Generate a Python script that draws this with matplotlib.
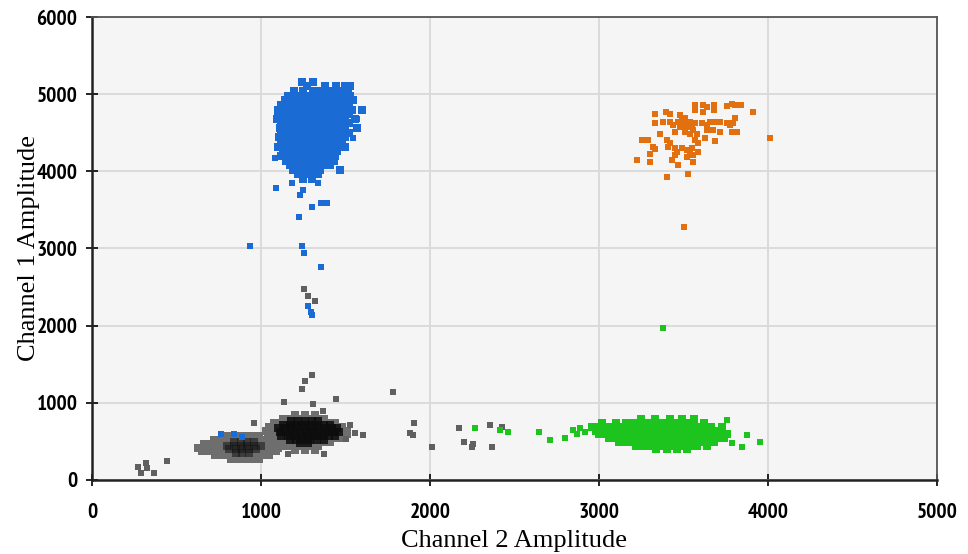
import matplotlib.pyplot as plt
from matplotlib import font_manager

# axis ticks
x_ticks = [0, 1000, 2000, 3000, 4000, 5000]
y_ticks = [0, 1000, 2000, 3000, 4000, 5000, 6000]

# --- blue cluster (Ch1 positive) ---
blue_levels = [5160, 5100, 5040, 4980, 4920, 4860, 4800, 4740, 4680, 4620, 4560,
               4500, 4440, 4380, 4320, 4260, 4200, 4140, 4080, 4020, 3960, 3900]
blue_rows = [
    [1240, 1306],
    [1275, 1380, 1445, 1500, 1528],
    [1195, 1250, 1305, 1350, 1395, 1440, 1478, 1515],
    [1160, 1205, 1245, 1285, 1325, 1365, 1405, 1445, 1485, 1525],
    [1140, 1180, 1220, 1260, 1300, 1340, 1380, 1420, 1460, 1500, 1545],
    [1120, 1160, 1200, 1240, 1280, 1320, 1360, 1400, 1440, 1480, 1520],
    [1100, 1140, 1180, 1220, 1260, 1300, 1340, 1380, 1420, 1460, 1500, 1540, 1596],
    [1120, 1160, 1200, 1240, 1280, 1320, 1360, 1400, 1440, 1480, 1520],
    [1095, 1140, 1180, 1220, 1260, 1300, 1340, 1380, 1420, 1460, 1500, 1555],
    [1120, 1160, 1200, 1240, 1280, 1320, 1360, 1400, 1440, 1480, 1520],
    [1110, 1140, 1180, 1220, 1260, 1300, 1340, 1380, 1420, 1460, 1500, 1570],
    [1120, 1160, 1200, 1240, 1280, 1320, 1360, 1400, 1440, 1480, 1520],
    [1105, 1140, 1180, 1220, 1260, 1300, 1340, 1380, 1420, 1460, 1500],
    [1120, 1160, 1200, 1240, 1280, 1320, 1360, 1400, 1440, 1480],
    [1100, 1140, 1180, 1220, 1260, 1300, 1340, 1380, 1420, 1460, 1500],
    [1130, 1170, 1210, 1250, 1290, 1330, 1370, 1410, 1450],
    [1120, 1160, 1200, 1240, 1280, 1320, 1360, 1400, 1440],
    [1150, 1190, 1230, 1270, 1310, 1350, 1390, 1430],
    [1170, 1210, 1250, 1290, 1330, 1370, 1410],
    [1190, 1230, 1270, 1310, 1350, 1467],
    [1220, 1260, 1300, 1340],
    [1250, 1300],
]
blue_extra = [(935, 3031), (1243, 3031), (1254, 2940), (1355, 2759), (1278, 2254),
              (1302, 2137), (1296, 2176), (1225, 3407), (1302, 3536), (1355, 3588),
              (1390, 3588), (1089, 3782), (1183, 3847), (1337, 3847), (1231, 3692),
              (1249, 3756), (1083, 4171), (1093, 4771), (1568, 4676), (1545, 4430),
              (763, 596), (840, 596), (888, 557)]

# --- orange cluster (double positive) ---
orange_pts = [(3568, 4858), (3617, 4858), (3641, 4836), (3682, 4858), (3755, 4845),
              (3785, 4879), (3805, 4858), (3838, 4858), (3568, 4801), (3613, 4771),
              (3682, 4801), (3331, 4741), (3397, 4771), (3420, 4741), (3479, 4728),
              (3913, 4771), (3509, 4685), (3538, 4642), (3568, 4620), (3499, 4620),
              (3529, 4577), (3420, 4642), (3381, 4642), (3331, 4620), (3440, 4598),
              (3657, 4642), (3686, 4642), (3716, 4642), (3755, 4620), (3795, 4620),
              (3805, 4685), (3775, 4598), (3637, 4598), (3608, 4620), (3361, 4490),
              (3450, 4512), (3509, 4512), (3538, 4490), (3578, 4490), (3637, 4534),
              (3677, 4534), (3716, 4512), (3785, 4512), (3815, 4512), (3253, 4404),
              (3292, 4404), (3400, 4404), (3420, 4361), (3568, 4404), (3588, 4361),
              (3627, 4426), (3686, 4391), (4012, 4426), (3322, 4318), (3331, 4283),
              (3410, 4318), (3450, 4296), (3489, 4296), (3519, 4275), (3548, 4296),
              (3460, 4253), (3538, 4231), (3588, 4253), (3302, 4231), (3450, 4210),
              (3223, 4145), (3302, 4123), (3430, 4145), (3469, 4080), (3519, 4188),
              (3558, 4123), (3558, 4210), (3400, 3929), (3529, 3959), (3503, 3282),
              (3489, 4663), (3519, 4642), (3548, 4598), (3479, 4577), (3509, 4555),
              (3558, 4542), (3469, 4642)]

# --- green cluster (Ch2 positive) ---
green_levels = [790, 740, 690, 640, 590, 540, 490, 440, 400]
green_rows = [
    [3250, 3330, 3420, 3490, 3560],
    [3020, 3100, 3160, 3200, 3240, 3280, 3320, 3360, 3400, 3440, 3480, 3520, 3560, 3620],
    [2960, 3000, 3040, 3080, 3120, 3160, 3200, 3240, 3280, 3320, 3360, 3400, 3440,
     3480, 3520, 3560, 3600, 3660, 3730],
    [2980, 3020, 3060, 3100, 3140, 3180, 3220, 3260, 3300, 3340, 3380, 3420, 3460,
     3500, 3540, 3580, 3620, 3660, 3700],
    [3000, 3040, 3080, 3120, 3160, 3200, 3240, 3280, 3320, 3360, 3400, 3440, 3480,
     3520, 3560, 3600, 3640, 3680, 3720, 3760],
    [3060, 3100, 3140, 3180, 3220, 3260, 3300, 3340, 3380, 3420, 3460, 3500, 3540,
     3580, 3620, 3660, 3700, 3740],
    [3120, 3160, 3200, 3240, 3280, 3320, 3360, 3400, 3440, 3480, 3520, 3560, 3600,
     3640, 3680],
    [3220, 3260, 3300, 3340, 3380, 3420, 3460, 3500, 3540, 3580, 3640],
    [3340, 3400, 3460, 3520],
]
green_extra = [(2266, 673), (2414, 648), (2462, 622), (2645, 622), (2710, 518),
               (2799, 544), (2846, 648), (2888, 673), (2870, 600), (2920, 620),
               (3757, 777), (3787, 479), (3846, 427), (3876, 583), (3953, 492),
               (3379, 1969)]

# --- gray clusters (negative droplets): outer body ---
gray_levels = [570, 520, 470, 420, 370, 320, 270,
               840, 790, 740, 690, 640, 590, 540, 490, 440, 390]
gray_rows = [
    [790, 830, 870, 910, 950, 990],
    [720, 760, 800, 840, 880, 920, 960, 1000, 1040],
    [660, 700, 740, 780, 820, 860, 900, 940, 980, 1020, 1060, 1090],
    [630, 670, 710, 750, 790, 830, 870, 910, 950, 990, 1030, 1070, 1100],
    [650, 690, 730, 770, 810, 850, 890, 930, 970, 1010, 1050, 1090],
    [730, 770, 810, 850, 890, 930, 970, 1010, 1050],
    [820, 860, 900, 940, 990],
    [1200, 1260, 1320],
    [1130, 1170, 1210, 1250, 1290, 1330, 1370],
    [1080, 1120, 1160, 1200, 1240, 1280, 1320, 1360, 1400, 1440],
    [1050, 1090, 1130, 1170, 1210, 1250, 1290, 1330, 1370, 1410, 1450, 1480],
    [1030, 1070, 1110, 1150, 1190, 1230, 1270, 1310, 1350, 1390, 1430, 1470, 1510],
    [1040, 1080, 1120, 1160, 1200, 1240, 1280, 1320, 1360, 1400, 1440, 1480, 1510],
    [1060, 1100, 1140, 1180, 1220, 1260, 1300, 1340, 1380, 1420, 1460],
    [1090, 1130, 1170, 1210, 1250, 1290, 1330, 1370, 1410],
    [1140, 1180, 1220, 1260, 1300, 1340],
    [1200, 1260, 1320],
]
# denser middle of the left gray cluster
gray_left_core_levels = [490, 445, 400, 355]
gray_left_core_rows = [
    [840, 880, 920, 960],
    [800, 840, 880, 920, 960, 1000],
    [810, 850, 890, 930, 970],
    [850, 890, 930],
]
# densest middle of the right gray cluster
gray_right_core_levels = [760, 715, 670, 620, 570, 520, 480]
gray_right_core_rows = [
    [1180, 1220, 1260, 1300, 1340],
    [1130, 1170, 1210, 1250, 1290, 1330, 1370, 1410],
    [1100, 1140, 1180, 1220, 1260, 1300, 1340, 1380, 1420, 1450],
    [1110, 1150, 1190, 1230, 1270, 1310, 1350, 1390, 1430, 1460],
    [1120, 1160, 1200, 1240, 1280, 1320, 1360, 1400, 1440],
    [1170, 1210, 1250, 1290, 1330, 1370],
    [1230, 1280],
]
gray_extra = [(1781, 1140), (1905, 738), (1882, 609), (1899, 583), (2012, 427),
              (2172, 673), (2201, 492), (2249, 427), (2254, 466), (2355, 712),
              (2367, 427), (2426, 686), (1302, 1360), (1260, 1282), (1243, 1179),
              (1136, 1010), (1308, 984), (1444, 1049), (1367, 894), (959, 738),
              (1527, 712), (1556, 609), (1604, 583), (1503, 531), (1160, 337),
              (1373, 337), (1254, 2474), (1278, 2383), (1320, 2319), (272, 168),
              (290, 91), (320, 220), (325, 155), (367, 91), (444, 246)]


def unroll(levels, rows):
    xs, ys = [], []
    for y, row in zip(levels, rows):
        for x in row:
            xs.append(x)
            ys.append(y)
    return xs, ys


def split(pts):
    return [p[0] for p in pts], [p[1] for p in pts]


# narrow bold font for the tick labels: a "Narrow" family first, else a condensed one
fonts = font_manager.fontManager.ttflist
bold = [f for f in fonts if f.weight in ("bold", 700) and f.style == "normal"]
narrow = [f for f in bold if "Narrow" in f.name]
condensed = [f for f in bold if f.stretch in ("condensed", "semi-condensed")]
if narrow:
    tick_prop = font_manager.FontProperties(fname=narrow[0].fname, size=15.5)
elif condensed:
    tick_prop = font_manager.FontProperties(fname=condensed[0].fname, size=13.5)
else:
    tick_prop = font_manager.FontProperties(family="Liberation Sans", weight="bold", size=12)

fig = plt.figure(figsize=(9.68, 5.54), dpi=100)
ax = fig.add_axes([0.095, 0.1336, 0.873, 0.8357])
ax.set_facecolor("#f5f5f5")

core = 30
single = 13
gx, gy = unroll(gray_levels, gray_rows)
ax.scatter(gx, gy, s=core, marker="s", color="#6e6e6e", linewidths=0, zorder=3)
cx, cy = unroll(gray_left_core_levels, gray_left_core_rows)
ax.scatter(cx, cy, s=core, marker="s", color="#141414", alpha=0.55, linewidths=0, zorder=3)
cx, cy = unroll(gray_right_core_levels, gray_right_core_rows)
ax.scatter(cx, cy, s=core, marker="s", color="#0c0c0c", alpha=0.85, linewidths=0, zorder=3)
ex, ey = split(gray_extra)
ax.scatter(ex, ey, s=single, marker="s", color="#606060", linewidths=0, zorder=3)

bx, by = unroll(blue_levels, blue_rows)
ax.scatter(bx, by, s=core, marker="s", color="#1a6bd3", linewidths=0, zorder=4)
ex, ey = split(blue_extra)
ax.scatter(ex, ey, s=single, marker="s", color="#1a6bd3", linewidths=0, zorder=4)

ox, oy = split(orange_pts)
ax.scatter(ox, oy, s=single, marker="s", color="#e2700f", linewidths=0, zorder=4)

grx, gry = unroll(green_levels, green_rows)
ax.scatter(grx, gry, s=core, marker="s", color="#1ec41e", linewidths=0, zorder=4)
ex, ey = split(green_extra)
ax.scatter(ex, ey, s=single, marker="s", color="#1ec41e", linewidths=0, zorder=4)

ax.set_xlim(0, 5000)
ax.set_ylim(0, 6000)
ax.set_xticks(x_ticks)
ax.set_yticks(y_ticks)
ax.grid(True, color="#d9d9d9", linewidth=1.3, zorder=0)
ax.set_axisbelow(True)

ax.set_xticklabels([str(v) for v in x_ticks], fontproperties=tick_prop)
ax.set_yticklabels([str(v) for v in y_ticks], fontproperties=tick_prop)
ax.tick_params(axis="x", direction="inout", length=9, width=1.2, pad=12)
ax.tick_params(axis="y", direction="inout", length=9, width=1.2, pad=6)

for side in ["left", "bottom"]:
    ax.spines[side].set_linewidth(1.8)
    ax.spines[side].set_color("#222222")
for side in ["top", "right"]:
    ax.spines[side].set_linewidth(1.3)
    ax.spines[side].set_color("#555555")

label_font = dict(family="Liberation Serif", size=19)
ax.set_xlabel("Channel 2 Amplitude", **label_font)
ax.set_ylabel("Channel 1 Amplitude", **label_font)
ax.xaxis.set_label_coords(0.5, -0.108)
ax.yaxis.set_label_coords(-0.062, 0.5)

fig.savefig("out.png", dpi=100)
